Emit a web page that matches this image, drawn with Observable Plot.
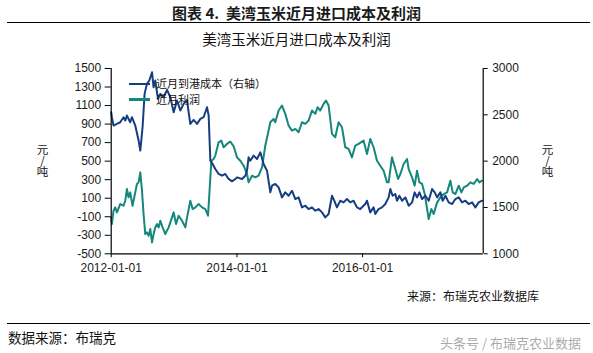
<!DOCTYPE html>
<html><head><meta charset="utf-8">
<script src="https://cdn.jsdelivr.net/npm/d3@7"></script>
<script src="https://cdn.jsdelivr.net/npm/@observablehq/plot@0.6"></script>
<style>
body{margin:0;background:#fff;font-family:"Noto Sans CJK SC","Liberation Sans",sans-serif;}
#wrap{position:relative;width:593px;height:353px;overflow:hidden;background:#fff;}
#chart{position:absolute;left:0;top:0;}
.abs{position:absolute;white-space:nowrap;line-height:1;}
.vert{position:absolute;writing-mode:vertical-rl;text-orientation:upright;font-size:11.5px;line-height:1;color:#111;letter-spacing:-0.5px;}
.rule{position:absolute;background:#000;}
.sw{position:absolute;height:2.5px;width:21px;}
</style></head><body>
<div id="wrap">
  <div id="chart"></div>
  <div class="abs" style="left:0;width:593px;text-align:center;top:5px;font-size:15px;font-weight:bold;color:#1a1a1a;">图表 4.&nbsp; 美湾玉米近月进口成本及利润</div>
  <div class="rule" style="left:7px;width:583px;top:21.5px;height:1.5px;"></div>
  <div class="abs" style="left:0;width:593px;text-align:center;top:32px;font-size:14.5px;color:#111;">美湾玉米近月进口成本及利润</div>
  <div class="sw" style="left:129px;top:82.5px;background:#153e80;"></div>
  <div class="sw" style="left:129px;top:98px;background:#16877b;"></div>
  <div id="costLabel" class="abs" style="left:156px;top:78px;font-size:11px;color:#111;"></div>
  <div id="profitLabel" class="abs" style="left:156px;top:94px;font-size:11px;color:#111;"></div>
  <div class="vert" style="left:36px;top:144px;">元/吨</div>
  <div class="vert" style="left:541px;top:144px;">元/吨</div>
  <div class="abs" style="left:407px;top:290px;font-size:12px;color:#111;">来源：布瑞克农业数据库</div>
  <div class="rule" style="left:7px;width:583px;top:322.5px;height:1.5px;"></div>
  <div class="abs" style="left:8px;top:331px;font-size:13.5px;color:#111;">数据来源：布瑞克</div>
  <div class="abs" style="left:440px;top:335.5px;font-size:13px;color:rgba(140,140,140,0.75);">头条号 / 布瑞克农业数据</div>
</div>
<script>
// ---- data (decimal years, values) ----
const costYears = [2012.000,2012.011,2012.037,2012.091,2012.143,2012.196,2012.223,2012.250,2012.302,2012.329,2012.382,2012.435,2012.462,2012.498,2012.530,2012.568,2012.605,2012.648,2012.673,2012.700,2012.743,2012.780,2012.832,2012.887,2012.939,2012.992,2013.046,2013.098,2013.151,2013.205,2013.230,2013.257,2013.310,2013.364,2013.417,2013.469,2013.523,2013.549,2013.576,2013.612,2013.655,2013.708,2013.762,2013.814,2013.867,2013.921,2013.974,2014.001,2014.080,2014.133,2014.160,2014.185,2014.212,2014.265,2014.319,2014.372,2014.424,2014.478,2014.531,2014.558,2014.610,2014.663,2014.717,2014.769,2014.822,2014.876,2014.929,2014.981,2015.035,2015.088,2015.140,2015.194,2015.247,2015.299,2015.354,2015.406,2015.459,2015.513,2015.549,2015.592,2015.645,2015.697,2015.751,2015.804,2015.856,2015.911,2015.963,2016.043,2016.070,2016.122,2016.175,2016.202,2016.254,2016.308,2016.361,2016.414,2016.441,2016.477,2016.520,2016.547,2016.584,2016.627,2016.679,2016.732,2016.786,2016.827,2016.865,2016.902,2016.945,2016.997,2017.050,2017.104,2017.146,2017.184,2017.236,2017.273,2017.316,2017.368,2017.423,2017.475,2017.528,2017.582,2017.634,2017.687,2017.741,2017.793,2017.846,2017.900];
const costValues = [2528,2474,2384,2402,2420,2474,2438,2492,2420,2474,2384,2222,2114,2366,2726,2834,2870,2960,2798,2870,2672,2726,2690,2770,2690,2528,2654,2546,2618,2662,2528,2402,2445,2402,2456,2474,2582,2492,2005,1970,1916,1862,1843,1862,1808,1782,1808,1825,1808,1843,1897,2041,2005,2060,2024,2095,1970,1897,1663,1735,1754,1717,1609,1663,1627,1681,1591,1609,1501,1519,1483,1501,1465,1483,1447,1393,1429,1627,1573,1501,1573,1555,1591,1555,1573,1501,1483,1537,1573,1447,1501,1429,1483,1501,1537,1609,1699,1627,1645,1573,1627,1573,1609,1519,1555,1663,1609,1663,1591,1627,1573,1699,1663,1609,1663,1573,1627,1555,1537,1591,1609,1555,1573,1537,1555,1501,1555,1573];
const profitYears = [2012.000,2012.011,2012.037,2012.064,2012.091,2012.143,2012.196,2012.223,2012.250,2012.275,2012.302,2012.339,2012.382,2012.409,2012.435,2012.462,2012.489,2012.514,2012.541,2012.568,2012.594,2012.621,2012.648,2012.673,2012.700,2012.727,2012.753,2012.780,2012.816,2012.859,2012.912,2012.966,2012.992,2013.030,2013.071,2013.125,2013.178,2013.205,2013.257,2013.294,2013.337,2013.389,2013.444,2013.496,2013.539,2013.560,2013.592,2013.628,2013.655,2013.708,2013.751,2013.787,2013.841,2013.894,2013.947,2014.001,2014.053,2014.106,2014.160,2014.185,2014.239,2014.292,2014.344,2014.399,2014.451,2014.504,2014.531,2014.583,2014.610,2014.663,2014.717,2014.769,2014.822,2014.876,2014.929,2014.981,2015.035,2015.088,2015.140,2015.194,2015.247,2015.284,2015.326,2015.379,2015.417,2015.459,2015.513,2015.565,2015.618,2015.672,2015.724,2015.777,2015.831,2015.884,2015.936,2016.016,2016.070,2016.122,2016.175,2016.229,2016.281,2016.334,2016.388,2016.414,2016.467,2016.520,2016.563,2016.600,2016.652,2016.706,2016.732,2016.786,2016.827,2016.865,2016.902,2016.945,2016.987,2017.025,2017.050,2017.093,2017.130,2017.184,2017.236,2017.289,2017.343,2017.395,2017.432,2017.475,2017.528,2017.571,2017.608,2017.662,2017.714,2017.767,2017.821,2017.857,2017.900];
const profitValues = [-107,-179,-35,1,-53,37,19,73,200,109,163,19,163,254,271,379,181,-71,-287,-269,-305,-233,-377,-287,-215,-179,-215,-143,-215,-287,-215,-107,-53,-179,-89,-143,-215,-107,73,-17,1,37,1,-17,-89,145,505,523,560,703,722,650,686,712,660,541,505,451,362,271,343,325,343,433,668,830,920,956,920,1046,1100,1010,884,830,848,812,920,902,938,1046,1010,1082,1046,1118,1154,1100,794,758,920,866,650,632,541,668,686,722,578,740,650,505,451,397,271,271,541,415,307,361,469,523,415,325,235,397,271,254,145,-17,-125,-17,-71,55,109,145,163,289,163,145,235,163,217,235,271,254,307,271,289];
const xTickLabels = ["2012-01-01","2014-01-01","2016-01-01"];
const xDomainLabels = ["2012-01-01","2017-12-02"];
const leftTicks = [-500,-300,-100,100,300,500,700,900,1100,1300,1500];
const rightTicks = [1000,1500,2000,2500,3000];
const leftDomain = [-500,1500];
const rightDomain = [1000,3000];
const costName = "近月到港成本（右轴）";
const profitName = "近月利润";
const costColor = "#153e80";
const profitColor = "#16877b";

document.getElementById("costLabel").textContent = costName;
document.getElementById("profitLabel").textContent = profitName;

// ---- helpers ----
const toDate = t => { const y = Math.floor(t); const a = Date.UTC(y,0,1), b = Date.UTC(y+1,0,1); return new Date(a + (t-y)*(b-a)); };
const parse = d3.utcParse("%Y-%m-%d");
const rightToLeft = d3.scaleLinear().domain(rightDomain).range(leftDomain);
const leftToRight = rightToLeft.invert;

const cost = costYears.map((t,i) => ({date: toDate(t), v: rightToLeft(costValues[i]), s: costName}));
const profit = profitYears.map((t,i) => ({date: toDate(t), v: profitValues[i], s: profitName}));
const xDomain = xDomainLabels.map(parse);

const chart = Plot.plot({
  width: 593, height: 300,
  marginLeft: 110.7, marginRight: 110.3, marginTop: 68, marginBottom: 46.7,
  style: {fontSize: "12px", fontFamily: "'Liberation Sans', Arial, sans-serif", color: "#1a1a1a", background: "transparent", overflow: "visible"},
  x: {type: "utc", domain: xDomain},
  y: {domain: leftDomain},
  marks: [
    Plot.line(profit, {x: "date", y: "v", stroke: profitColor, strokeWidth: 2}),
    Plot.line(cost, {x: "date", y: "v", stroke: costColor, strokeWidth: 2}),
    Plot.ruleY([leftDomain[0]], {stroke: "#000", strokeWidth: 1.2}),
    Plot.ruleX(xDomain, {stroke: "#000", strokeWidth: 1.2}),
    Plot.axisX({ticks: xTickLabels.map(parse), tickFormat: d3.utcFormat("%Y-%m-%d"), tickSize: 4, tickPadding: 6, label: null, stroke: "#000"}),
    Plot.axisY({anchor: "left", ticks: leftTicks, tickFormat: v => String(v), tickSize: 6, tickPadding: 4, label: null, stroke: "#000"}),
    Plot.axisY({anchor: "right", ticks: rightTicks.map(rightToLeft), tickFormat: v => String(Math.round(leftToRight(v))), tickSize: 4, tickPadding: 5, label: null, stroke: "#000"})
  ]
});
document.getElementById("chart").appendChild(chart);
</script>
</body></html>
